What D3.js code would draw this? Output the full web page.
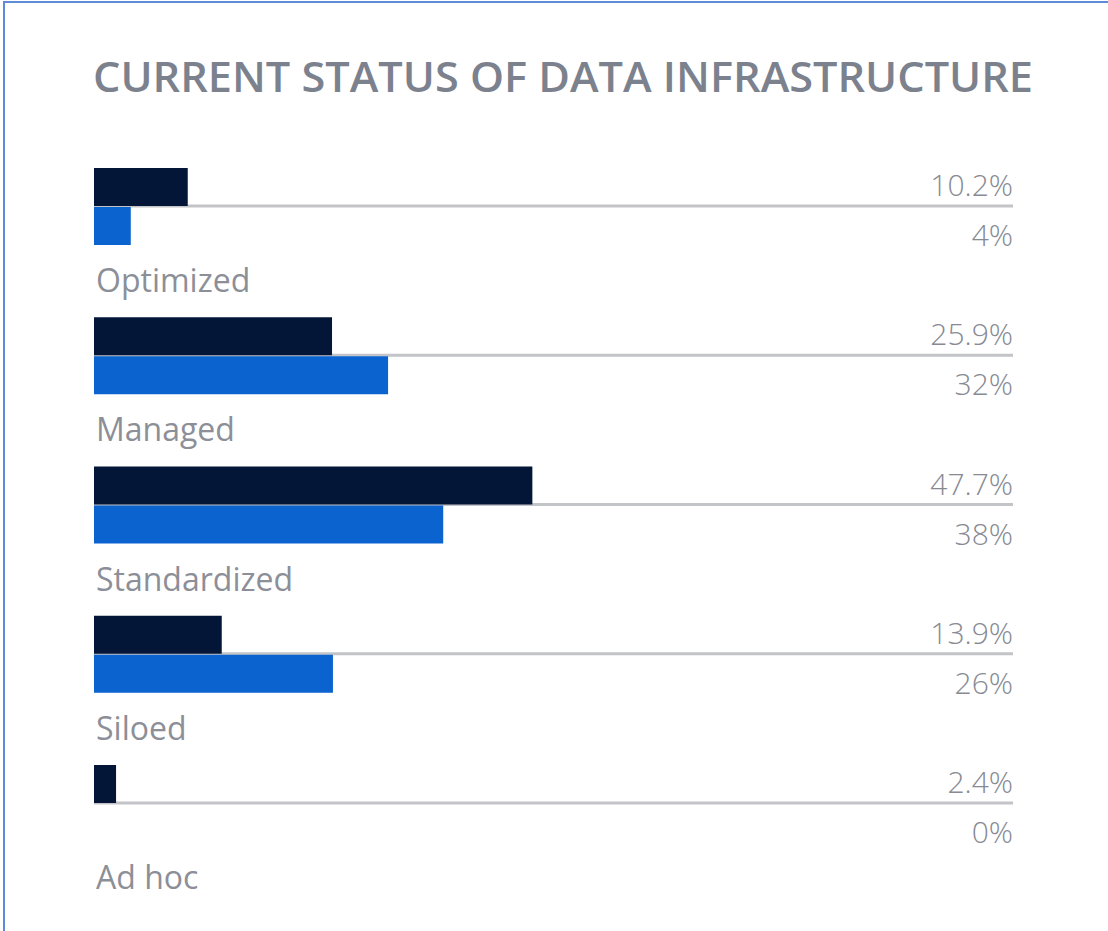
<!DOCTYPE html>
<html lang="en">
<head>
<meta charset="UTF-8">
<title>Current status of data infrastructure</title>
<script src="https://d3js.org/d3.v7.min.js"></script>
<style>
    html, body { margin: 0; padding: 0; background: #fff; }
    svg { display: block; }
    .title { font-family: "Open Sans", sans-serif; font-weight: 600; fill: #7c818e; }
    .val { font-family: "Open Sans", sans-serif; font-weight: 300; fill: #878a93; }
    .cat { font-family: "Open Sans", sans-serif; font-weight: 400; fill: #8c8f97; }
</style>
</head>
<body>
<svg id="chart"></svg>
<script>
    // Data
    const categories = ["Optimized", "Managed", "Standardized", "Siloed", "Ad hoc"];
    const seriesA = [10.2, 25.9, 47.7, 13.9, 2.4];   // dark bars
    const seriesB = [4, 32, 38, 26, 0];              // blue bars
    const labelsA = ["10.2%", "25.9%", "47.7%", "13.9%", "2.4%"];
    const labelsB = ["4%", "32%", "38%", "26%", "0%"];

    const W = 1108, H = 931;
    const svg = d3.select("#chart").attr("width", W).attr("height", H);

    // frame
    svg.append("rect")
        .attr("x", 4).attr("y", 2)
        .attr("width", W + 10).attr("height", H + 10)
        .attr("fill", "none")
        .attr("stroke", "#5d8bd8")
        .attr("stroke-width", 2);

    svg.append("text")
        .attr("class", "title")
        .attr("x", 93).attr("y", 92)
        .attr("font-size", 42)
        .attr("textLength", 940)
        .attr("lengthAdjust", "spacingAndGlyphs")
        .text("CURRENT STATUS OF DATA INFRASTRUCTURE");

    const x = d3.scaleLinear().domain([0, 100]).range([94, 1013]);

    // y gives the divider line position of each group
    const y = d3.scalePoint().domain(categories).range([206, 803]);
    const barH = 38;

    const groups = svg.selectAll("g.grp")
        .data(categories)
        .join("g")
        .attr("class", "grp")
        .attr("transform", d => "translate(0," + y(d) + ")");

    groups.append("line")
        .attr("x1", x(0)).attr("x2", x(100))
        .attr("y1", 0).attr("y2", 0)
        .attr("stroke", "#c3c4c8")
        .attr("stroke-width", 3);

    groups.append("rect")
        .attr("x", x(0))
        .attr("y", -barH)
        .attr("width", (d, i) => x(seriesA[i]) - x(0))
        .attr("height", barH)
        .attr("fill", "#041637");

    groups.append("rect")
        .attr("x", x(0))
        .attr("y", 1)
        .attr("width", (d, i) => x(seriesB[i]) - x(0))
        .attr("height", barH)
        .attr("fill", "#0b63cf");

    groups.append("text")
        .attr("class", "val")
        .attr("x", x(100)).attr("y", -10)
        .attr("text-anchor", "end")
        .attr("font-size", 30)
        .text((d, i) => labelsA[i]);

    groups.append("text")
        .attr("class", "val")
        .attr("x", x(100)).attr("y", 40)
        .attr("text-anchor", "end")
        .attr("font-size", 30)
        .text((d, i) => labelsB[i]);

    groups.append("text")
        .attr("class", "cat")
        .attr("x", 96).attr("y", 86)
        .attr("font-size", 32)
        .text(d => d);
</script>
</body>
</html>
